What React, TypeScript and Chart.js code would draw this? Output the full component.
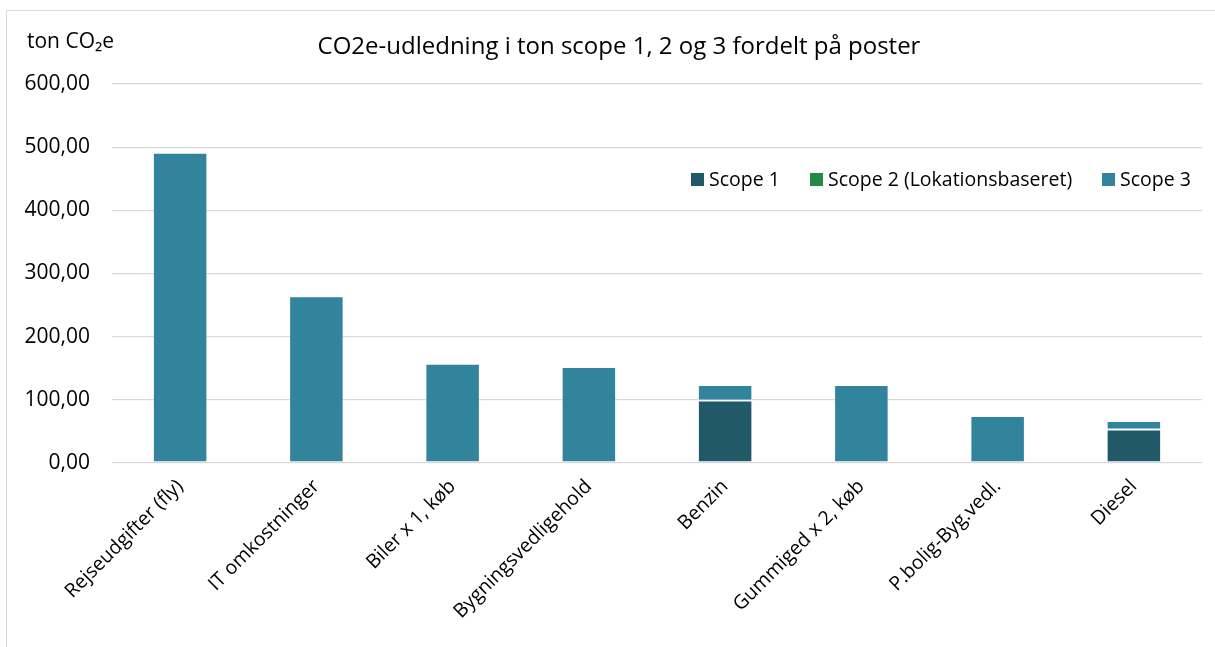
import React, { useEffect, useRef } from "react";
import { Chart, registerables } from "chart.js";

Chart.register(...registerables);

const categories = [
  "Rejseudgifter (fly)",
  "IT omkostninger",
  "Biler x 1, køb",
  "Bygningsvedligehold",
  "Benzin",
  "Gummiged x 2, køb",
  "P.bolig-Byg.vedl.",
  "Diesel",
];
const scope1 = [0, 0, 0, 0, 99, 0, 0, 53];
const scope2 = [0, 0, 0, 0, 0, 0, 0, 0];
const scope3 = [491, 264, 157, 152, 24.5, 123.5, 74.5, 13.5];
const seriesNames = ["Scope 1", "Scope 2 (Lokationsbaseret)", "Scope 3"];
const seriesColors = ["#215968", "#238A45", "#31849B"];
const yTicks = [0, 100, 200, 300, 400, 500, 600];
const titleText = "CO2e-udledning i ton scope 1, 2 og 3 fordelt på poster";
const yLabel = "ton CO₂e";

const FONT = "'Open Sans', Lato, sans-serif";

const overlay = {
  id: "overlay",
  afterDraw(chart: any) {
    const ctx = chart.ctx;
    ctx.save();
    ctx.fillStyle = "#000";
    ctx.textBaseline = "middle";
    // title
    ctx.font = `24px ${FONT}`;
    ctx.textAlign = "center";
    ctx.fillText(titleText, 619, 47);
    // y label
    ctx.font = `21px ${FONT}`;
    ctx.textAlign = "left";
    ctx.fillText(yLabel, 27, 42);
    // legend
    ctx.font = `19.5px ${FONT}`;
    const xs = [691, 810, 1102];
    const y = 180;
    chart.data.datasets.forEach((ds: any, i: number) => {
      ctx.fillStyle = ds.backgroundColor;
      ctx.fillRect(xs[i], y - 7, 13, 13);
      ctx.fillStyle = "#000";
      ctx.fillText(ds.label, xs[i] + 18, y);
    });
    ctx.restore();
  },
};

export default function App() {
  const ref = useRef<HTMLCanvasElement>(null);
  useEffect(() => {
    const data = [scope1, scope2, scope3];
    const chart = new Chart(ref.current!, {
      type: "bar",
      data: {
        labels: categories,
        datasets: seriesNames.map((name, i) => ({
          label: name,
          data: data[i],
          backgroundColor: seriesColors[i],
          borderColor: "rgba(255,255,255,0.15)",
          borderWidth: 1,
          borderSkipped: false,
          categoryPercentage: 1,
          barPercentage: 0.4,
        })),
      },
      options: {
        animation: false,
        responsive: false,
        maintainAspectRatio: false,
        layout: { padding: { top: 84, right: 13, left: 0, bottom: 0 } },
        plugins: {
          legend: { display: false },
          title: { display: false },
          tooltip: { enabled: false },
        },
        scales: {
          x: {
            stacked: true,
            grid: { display: false },
            border: { display: false },
            ticks: {
              minRotation: 45,
              maxRotation: 45,
              color: "#000",
              font: { family: FONT, size: 19.5 },
              padding: 4,
            },
            afterFit: (s: any) => {
              s.height = 647 - 463;
            },
          },
          y: {
            stacked: true,
            min: 0,
            max: 600,
            afterBuildTicks: (s: any) => {
              s.ticks = yTicks.map((v) => ({ value: v }));
            },
            grid: { color: "#d9d9d9", lineWidth: 1.3, drawTicks: false },
            border: { display: false },
            ticks: {
              color: "#000",
              padding: 22,
              font: { family: FONT, size: 21 },
              callback: (v: any) =>
                Number(v).toFixed(2).replace(".", ","),
            },
            afterFit: (s: any) => {
              s.width = 112;
            },
          },
        },
      },
      plugins: [overlay],
    });
    return () => chart.destroy();
  }, []);
  return (
    <div
      style={{
        position: "fixed",
        left: 0,
        top: 0,
        width: 1215,
        height: 647,
        background: "#fff",
      }}
    >
      <div
        style={{
          position: "absolute",
          left: 6,
          top: 10,
          width: 1220,
          height: 650,
          border: "1px solid #d9d9d9",
        }}
      />
      <canvas
        ref={ref}
        width={1215}
        height={647}
        style={{ position: "absolute", left: 0, top: 0 }}
      />
    </div>
  );
}
